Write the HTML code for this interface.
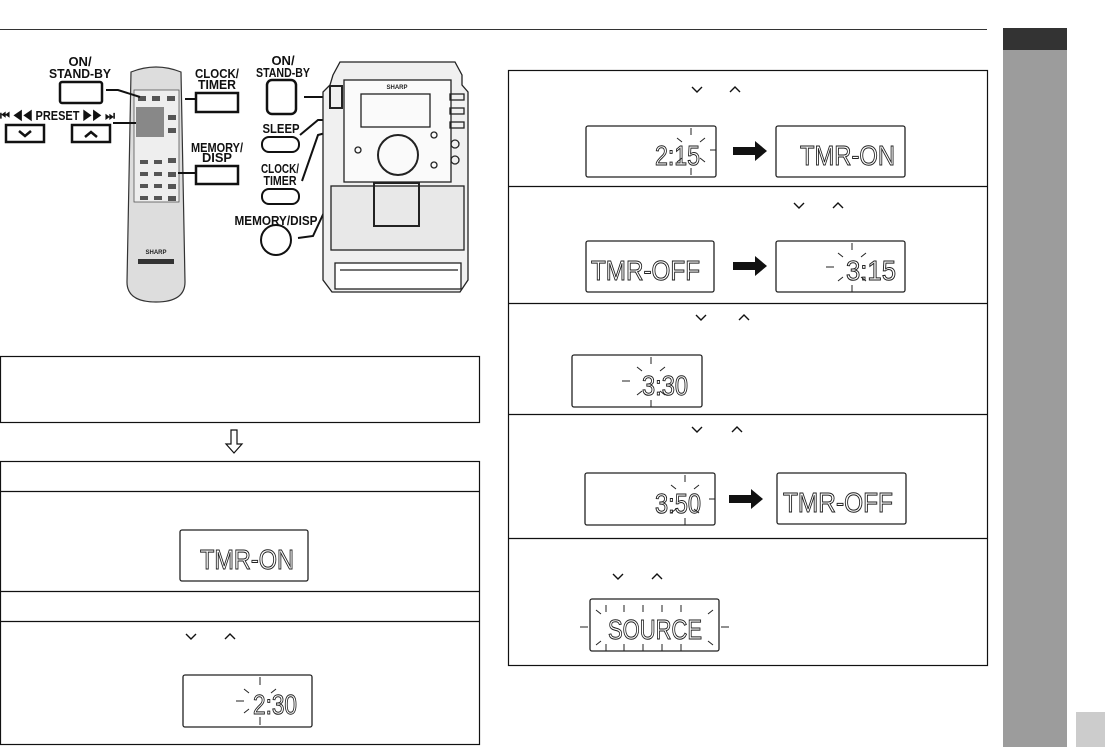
<!DOCTYPE html>
<html><head><meta charset="utf-8"><style>
body{margin:0;width:1105px;height:747px;background:#fff;overflow:hidden;font-family:"Liberation Sans",sans-serif}
svg{position:absolute;left:0;top:0}
.lbl{font-family:"Liberation Sans",sans-serif;font-weight:bold;font-size:13px;fill:#111}
.d{font-family:"Liberation Sans",sans-serif;font-size:28px;fill:none;stroke:#222;stroke-width:1}
</style></head><body>
<svg width="1105" height="747" viewBox="0 0 1105 747">
<line x1="0" y1="29.5" x2="987" y2="29.5" stroke="#333" stroke-width="1"/>
<rect x="1003" y="28" width="64" height="22" fill="#333"/>
<rect x="1003" y="50" width="64" height="697" fill="#9c9c9c"/>
<rect x="1076" y="712" width="29" height="35" fill="#ccc"/>

<!-- remote labels -->
<text class="lbl" x="80" y="66" text-anchor="middle">ON/</text>
<text class="lbl" x="80" y="78" text-anchor="middle" textLength="62" lengthAdjust="spacingAndGlyphs">STAND-BY</text>
<rect x="60" y="82" width="42" height="21" rx="2" fill="none" stroke="#111" stroke-width="2.5"/>
<text class="lbl" x="0" y="120" textLength="115" lengthAdjust="spacingAndGlyphs">⏮ ◀◀ PRESET ▶▶ ⏭</text>
<rect x="6" y="125" width="38" height="17" fill="none" stroke="#111" stroke-width="2.5"/>
<rect x="72" y="125" width="38" height="17" fill="none" stroke="#111" stroke-width="2.5"/>
<path d="M19 131l6 5 6-5M85 137l6-5 6 5" fill="none" stroke="#111" stroke-width="2.5"/>
<text class="lbl" x="217" y="78" text-anchor="middle" textLength="44" lengthAdjust="spacingAndGlyphs">CLOCK/</text>
<text class="lbl" x="217" y="89" text-anchor="middle" textLength="38" lengthAdjust="spacingAndGlyphs">TIMER</text>
<rect x="196" y="93" width="42" height="19" fill="none" stroke="#111" stroke-width="2.5"/>
<text class="lbl" x="217" y="152" text-anchor="middle" textLength="52" lengthAdjust="spacingAndGlyphs">MEMORY/</text>
<text class="lbl" x="217" y="162" text-anchor="middle" textLength="30" lengthAdjust="spacingAndGlyphs">DISP</text>
<rect x="196" y="166" width="42" height="18" fill="none" stroke="#111" stroke-width="2.5"/>
<!-- remote -->
<path d="M131 72 Q156 62 181 72 L185 282 Q185 302 156 302 Q127 302 127 282 Z" fill="#ddd" stroke="#333" stroke-width="1.2"/>
<rect x="134" y="90" width="45" height="112" fill="#eee" stroke="#555" stroke-width=".8"/>
<g fill="#555">
<rect x="138" y="96" width="8" height="5"/><rect x="152" y="96" width="8" height="5"/><rect x="167" y="96" width="8" height="5"/>
<rect x="136" y="107" width="28" height="30" fill="#888"/>
<rect x="168" y="115" width="8" height="5"/><rect x="168" y="128" width="8" height="5"/>
<rect x="140" y="160" width="8" height="4"/><rect x="154" y="160" width="8" height="4"/><rect x="168" y="158" width="8" height="5"/>
<rect x="140" y="172" width="8" height="4"/><rect x="154" y="172" width="8" height="4"/><rect x="168" y="172" width="8" height="5"/>
<rect x="140" y="184" width="8" height="4"/><rect x="154" y="184" width="8" height="4"/><rect x="168" y="184" width="8" height="5"/>
<rect x="140" y="196" width="8" height="4"/><rect x="154" y="196" width="8" height="4"/><rect x="168" y="196" width="8" height="5"/>
</g>
<text x="156" y="254" font-size="6" font-weight="bold" text-anchor="middle" fill="#222">SHARP</text>
<rect x="138" y="259" width="36" height="5" fill="#333"/>
<path d="M106 90H118L140 97M113 123H136M185 99H196M178 173H196" fill="none" stroke="#111" stroke-width="2"/>

<!-- main unit labels -->
<text class="lbl" x="283" y="65" text-anchor="middle">ON/</text>
<text class="lbl" x="283" y="77" text-anchor="middle" textLength="54" lengthAdjust="spacingAndGlyphs">STAND-BY</text>
<rect x="267" y="80" width="29" height="34" rx="5" fill="none" stroke="#111" stroke-width="2.5"/>
<text class="lbl" x="281" y="133" text-anchor="middle" textLength="37" lengthAdjust="spacingAndGlyphs">SLEEP</text>
<rect x="262" y="137" width="37" height="15" rx="7" fill="none" stroke="#111" stroke-width="2"/>
<text class="lbl" x="280" y="173" text-anchor="middle" textLength="38" lengthAdjust="spacingAndGlyphs">CLOCK/</text>
<text class="lbl" x="280" y="185" text-anchor="middle" textLength="33" lengthAdjust="spacingAndGlyphs">TIMER</text>
<rect x="262" y="189" width="37" height="15" rx="7" fill="none" stroke="#111" stroke-width="2"/>
<text class="lbl" x="276" y="225" text-anchor="middle" textLength="83" lengthAdjust="spacingAndGlyphs">MEMORY/DISP</text>
<circle cx="276" cy="240" r="15" fill="none" stroke="#111" stroke-width="2"/>
<path d="M304 97H334M300 135L318 120H330M302 181L318 135L333 131M298 238L313 236L360 135" fill="none" stroke="#111" stroke-width="2"/>
<!-- main unit -->
<g fill="none" stroke="#222" stroke-width="1.3">
<path d="M333 75L340 62H455L462 75V85L468 92V280L460 292H332L323 280V92L330 85Z" fill="#f0f0f0"/>
<rect x="344" y="80" width="107" height="102" fill="#fafafa"/>
<rect x="361" y="94" width="69" height="33"/>
<circle cx="398" cy="155" r="20" stroke-width="2"/>
<rect x="331" y="186" width="133" height="64" fill="#e8e8e8"/>
<rect x="374" y="183" width="45" height="43" stroke-width="2"/>
<rect x="335" y="263" width="126" height="26" fill="#fff"/>
<path d="M340 270h118"/>
<rect x="330" y="86" width="12" height="22" stroke-width="2"/>
<rect x="450" y="94" width="14" height="6"/><rect x="450" y="108" width="14" height="6"/><rect x="450" y="122" width="14" height="6"/>
<circle cx="455" cy="144" r="4"/><circle cx="455" cy="160" r="4"/>
<circle cx="434" cy="135" r="3"/><circle cx="434" cy="165" r="3"/><circle cx="358" cy="150" r="3"/>
</g>
<text x="397" y="89" font-size="6" font-weight="bold" text-anchor="middle" fill="#222">SHARP</text>

<!-- boxes -->
<g fill="none" stroke="#111" stroke-width="1.2">
<rect x="0.5" y="356.5" width="479" height="66"/>
<rect x="0.5" y="461.5" width="479" height="283"/>
<path d="M0 491.5H480M0 591.5H480M0 621.5H480"/>
<path d="M231 430h6v14h5l-8 9-8-9h5z"/>
<rect x="508.5" y="70.5" width="479" height="595"/>
<path d="M508 186.5H988M508 303.5H988M508 414.5H988M508 538.5H988"/>
</g>
<g fill="none" stroke="#111" stroke-width="1.4">
<path d="M186 634l5 5 5-5M225 639l5-5 5 5"/>
<path d="M692 87l5 5 5-5M730 92l5-5 5 5"/>
<path d="M794 188l5 5 5-5M833 193l5-5 5 5" transform="translate(0,15)"/>
<path d="M696 315l5 5 5-5M739 320l5-5 5 5"/>
<path d="M692 427l5 5 5-5M732 432l5-5 5 5"/>
<path d="M613 574l5 5 5-5M652 579l5-5 5 5"/>
</g>
<!-- displays -->
<g fill="#fff" stroke="#222" stroke-width="1.3">
<rect x="180" y="530" width="128" height="51" rx="2"/>
<rect x="183" y="675" width="129" height="52" rx="2"/>
<rect x="586" y="126" width="130" height="51" rx="2"/>
<rect x="776" y="126" width="129" height="51" rx="2"/>
<rect x="586" y="241" width="128" height="51" rx="2"/>
<rect x="776" y="241" width="129" height="51" rx="2"/>
<rect x="572" y="355" width="130" height="52" rx="2"/>
<rect x="585" y="473" width="130" height="52" rx="2"/>
<rect x="777" y="473" width="129" height="51" rx="2"/>
<rect x="590" y="599" width="129" height="52" rx="2"/>
</g>
<g class="d">
<text x="200" y="569" textLength="94" lengthAdjust="spacingAndGlyphs">TMR-ON</text>
<text x="253" y="714" textLength="44" lengthAdjust="spacingAndGlyphs">2:30</text>
<text x="655" y="165" textLength="45" lengthAdjust="spacingAndGlyphs">2:15</text>
<text x="800" y="165" textLength="95" lengthAdjust="spacingAndGlyphs">TMR-ON</text>
<text x="591" y="280" textLength="109" lengthAdjust="spacingAndGlyphs">TMR-OFF</text>
<text x="846" y="280" textLength="50" lengthAdjust="spacingAndGlyphs">3:15</text>
<text x="642" y="395" textLength="46" lengthAdjust="spacingAndGlyphs">3:30</text>
<text x="655" y="513" textLength="46" lengthAdjust="spacingAndGlyphs">3:50</text>
<text x="783" y="512" textLength="110" lengthAdjust="spacingAndGlyphs">TMR-OFF</text>
<text x="608" y="639" textLength="94" lengthAdjust="spacingAndGlyphs">SOURCE</text>
</g>
<!-- blink rays -->
<g stroke="#222" stroke-width="1" fill="none">
<path d="M260 677v8M260 725v-8M236 701h8M244 689l5 4M244 713l5-4M276 689l-5 4"/>
<path d="M691 128v7M691 175v-7M716 150h-6M677 138l5 4M677 162l5-4M705 138l-5 4M705 162l-5-4"/>
<path d="M852 243v7M852 292v-7M826 267h8M838 253l5 4M838 281l5-4M866 253l-5 4M866 281l-5-4"/>
<path d="M651 357v7M651 407v-7M622 381h8M637 367l5 4M637 395l5-4M665 367l-5 4M665 395l-5-4"/>
<path d="M685 475v7M685 525v-7M715 499h-6M671 485l5 4M671 513l5-4M699 485l-5 4M699 513l-5-4"/>
<path d="M580 627h8M721 627h8M606 605v7M624 605v7M643 605v7M662 605v7M681 605v7M606 651v-7M624 651v-7M643 651v-7M662 651v-7M681 651v-7M596 610l5 4M713 610l-5 4M596 645l5-4M713 645l-5-4"/>
</g>
<g fill="#111">
<path d="M733 147h22v-6l12 10-12 10v-6h-22z"/>
<path d="M733 262h22v-6l12 10-12 10v-6h-22z"/>
<path d="M729 495h22v-6l12 10-12 10v-6h-22z"/>
</g>
</svg>
</body></html>
